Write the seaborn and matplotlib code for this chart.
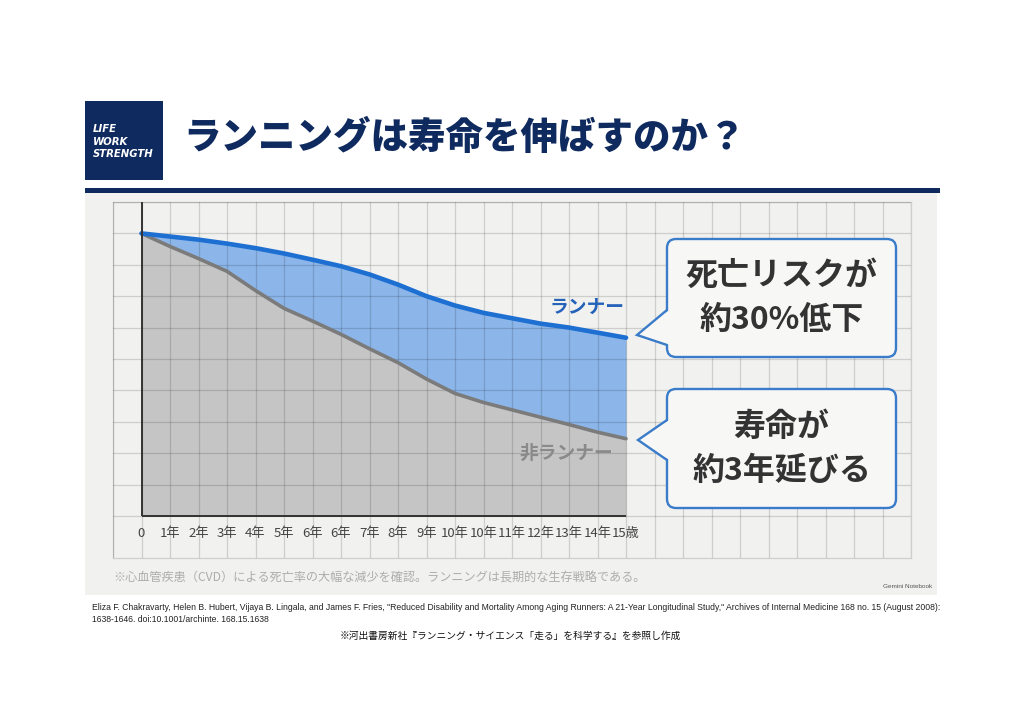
import matplotlib
matplotlib.use("Agg")
import matplotlib.pyplot as plt
import seaborn as sns
import pandas as pd
from matplotlib.patches import FancyBboxPatch, Polygon, Rectangle

# --- data ---
tick_labels = ["0", "1年", "2年", "3年", "4年", "5年", "6年", "6年", "7年", "8年",
               "9年", "10年", "10年", "11年", "12年", "13年", "14年", "15歳"]
positions = list(range(len(tick_labels)))
runner = [100, 98.9, 97.8, 96.4, 94.8, 92.9, 90.7, 88.4, 85.5, 81.9,
          77.8, 74.5, 71.9, 70.0, 68.1, 66.7, 64.9, 63.1]
non_runner = [100, 95.4, 91.1, 86.6, 79.8, 73.5, 69.0, 64.3, 59.2, 54.3,
              48.5, 43.4, 40.2, 37.6, 35.0, 32.4, 29.7, 27.4]
series_names = ["ランナー", "非ランナー"]
callout_1 = ["死亡リスクが", "約30%低下"]
callout_2 = ["寿命が", "約3年延びる"]

title = "ランニングは寿命を伸ばすのか？"
brand = ["LIFE", "WORK", "STRENGTH"]
footnote = "※心血管疾患（CVD）による死亡率の大幅な減少を確認。ランニングは長期的な生存戦略である。"
citation = ['Eliza F. Chakravarty, Helen B. Hubert, Vijaya B. Lingala, and James F. Fries, "Reduced Disability and Mortality '
            'Among Aging Runners: A 21-Year Longitudinal Study," Archives of Internal Medicine 168 no. 15 (August 2008):',
            "1638-1646. doi:10.1001/archinte. 168.15.1638"]
source = "※河出書房新社『ランニング・サイエンス「走る」を科学する』を参照し作成"

df = pd.DataFrame({"pos": positions, series_names[0]: runner, series_names[1]: non_runner})

NAVY = "#0f2a5e"
PANEL = "#f1f1ef"
BLUE = "#1e6fd2"
BLUE_FILL = "#8cb6e9"
GRAY_LINE = "#7b7b7b"
GRAY_FILL = "#c5c5c5"
BOX_EDGE = "#3a7cc9"
BOX_FC = "#f7f7f6"

sns.set_style("white")
plt.rcParams["font.family"] = ["Noto Sans CJK JP", "DejaVu Sans"]

fig = plt.figure(figsize=(10.24, 7.25), dpi=100)
fig.patch.set_facecolor("white")

# background layer in pixel coordinates
bg = fig.add_axes([0, 0, 1, 1], zorder=0)
bg.set_xlim(0, 1024)
bg.set_ylim(725, 0)
bg.axis("off")
bg.add_patch(Rectangle((85, 101), 78, 79, fc=NAVY, ec="none"))
for i, word in enumerate(brand):
    bg.text(93, 129 + i * 12.5, word, color="white", fontsize=7.3, fontweight="heavy",
            style="italic", family=["DejaVu Sans"], va="center", ha="left")
bg.text(183, 138, title, color=NAVY, fontsize=27, fontweight=900, va="center", ha="left")
bg.add_patch(Rectangle((85, 188), 855, 5, fc=NAVY, ec="none"))
bg.add_patch(Rectangle((85, 193), 852, 402, fc=PANEL, ec="none"))
bg.text(113, 578, footnote, color="#adadad", fontsize=8.75, va="center", ha="left")
bg.text(932, 586, "Gemini Notebook", color="#555555", fontsize=4.6, va="center", ha="right",
        family=["Liberation Sans"])
bg.text(92, 608, citation[0], color="#222222", fontsize=6.2, va="center", ha="left",
        family=["Liberation Sans"])
bg.text(92, 620, citation[1], color="#222222", fontsize=6.2, va="center", ha="left",
        family=["Liberation Sans"])
bg.text(510, 636, source, color="#111111", fontsize=7, va="center", ha="center")

# chart axes covering the whole grid
ax = fig.add_axes([113 / 1024, 1 - 558 / 725, 798 / 1024, 356 / 725], zorder=1)
ax.set_facecolor("none")
row = 100 / 9
ax.set_xlim(-1, 27)
ax.set_ylim(-14.8, 10 * row)
ax.set_xticks(range(-1, 28))
ax.set_yticks([k * row for k in range(0, 11)])
ax.set_xticklabels([])
ax.set_yticklabels([])
ax.tick_params(length=0)
ax.grid(True, color="black", alpha=0.14, lw=0.9)
ax.set_axisbelow(False)
for s in ax.spines.values():
    s.set_color("#cfcfcd")
    s.set_linewidth(0.9)

ax.fill_between(df["pos"], 0, df[series_names[1]], color=GRAY_FILL, lw=0, zorder=1)
ax.fill_between(df["pos"], df[series_names[1]], df[series_names[0]], color=BLUE_FILL, lw=0, zorder=1)
sns.lineplot(data=df, x="pos", y=series_names[1], color=GRAY_LINE, lw=2.6, ax=ax, zorder=4)
sns.lineplot(data=df, x="pos", y=series_names[0], color=BLUE, lw=3.3, ax=ax, zorder=5)
ax.set_xlabel("")
ax.set_ylabel("")

ax.vlines(positions[0], 0, 10 * row, color="#333333", lw=1.4, zorder=6)
ax.hlines(0, positions[0], positions[-1], color="#333333", lw=1.4, zorder=6)
for p, lab in zip(positions, tick_labels):
    ax.text(p, -6, lab, ha="center", va="center", fontsize=9.5, color="#444444")

ax.text(16.95, 73.7, series_names[0], color="#2461b8", fontsize=13.5, fontweight="bold",
        ha="right", va="center", zorder=6)
ax.text(16.55, 22.3, series_names[1], color="#8a8a8a", fontsize=13.5, fontweight="bold",
        ha="right", va="center", zorder=6)

# callouts on top
fg = fig.add_axes([0, 0, 1, 1], zorder=2)
fg.set_xlim(0, 1024)
fg.set_ylim(725, 0)
fg.axis("off")
fg.patch.set_alpha(0)


def bubble(y0, y1, tail0, tail1, tip, lines):
    x0, x1 = 667, 896
    fg.add_patch(FancyBboxPatch((x0, y0), x1 - x0, y1 - y0,
                                boxstyle="round,pad=0,rounding_size=9",
                                fc=BOX_FC, ec=BOX_EDGE, lw=1.7))
    fg.add_patch(Polygon([(x0 + 2, tail0), tip, (x0 + 2, tail1)], closed=True,
                         fc=BOX_FC, ec="none"))
    fg.plot([x0, tip[0], x0], [tail0, tip[1], tail1], color=BOX_EDGE, lw=1.7,
            solid_joinstyle="miter")
    mid = (y0 + y1) / 2
    for i, txt in enumerate(lines):
        fg.text((x0 + x1) / 2, mid - 22 + i * 44, txt, ha="center", va="center",
                fontsize=23, fontweight="bold", color="#333333")


bubble(239, 357, 310, 345, (637, 335), callout_1)
bubble(389, 508, 420, 460, (638, 440), callout_2)

fig.savefig("out.png", dpi=100, facecolor="white")
